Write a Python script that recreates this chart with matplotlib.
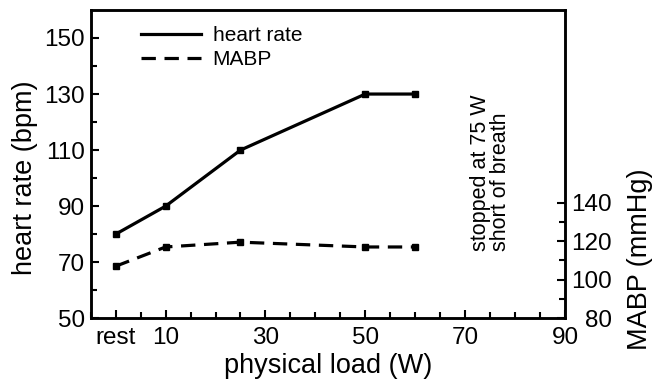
import matplotlib
matplotlib.use('Agg')
import matplotlib.pyplot as plt
from matplotlib.lines import Line2D
from matplotlib.ticker import MultipleLocator, FixedLocator

plt.rcParams['font.family'] = ['Liberation Sans', 'DejaVu Sans']

# data
load = [0, 10, 25, 50, 60]           # W, 0 = rest
heart_rate = [80, 90, 110, 130, 130]  # bpm
mabp = [107, 117, 119.5, 117, 117]    # mmHg

x_ticks = [0, 10, 30, 50, 70, 90]
x_ticklabels = ['rest', '10', '30', '50', '70', '90']
hr_ticks = [50, 70, 90, 110, 130, 150]
mabp_ticks = [80, 100, 120, 140]

fig = plt.figure(figsize=(6.62, 3.83), dpi=100)
ax = fig.add_axes([0.137, 0.169, 0.7165, 0.805])
ax2 = ax.twinx()

lw = 2.3
dash = (0, (4.5, 2.7))

# heart rate (left axis)
ax.plot(load, heart_rate, color='black', lw=lw)
ax.plot(load, heart_rate, 's', color='black', ms=5)

# MABP (right axis)
ax2.plot(load, mabp, color='black', lw=lw, linestyle=dash)
ax2.plot(load, mabp, 's', color='black', ms=4.5)

ax.set_xlim(-5, 90)
ax.set_ylim(50, 160)
ax2.set_ylim(80, 240)

ax.set_xticks(x_ticks)
ax.set_xticklabels(x_ticklabels)
ax.xaxis.set_minor_locator(MultipleLocator(5))
ax.set_yticks(hr_ticks)
ax.yaxis.set_minor_locator(FixedLocator([60, 80, 100, 120, 140]))
ax2.set_yticks(mabp_ticks)
ax2.yaxis.set_minor_locator(FixedLocator([90, 110, 130]))

for a in (ax, ax2):
    a.tick_params(which='both', direction='in', width=1.5, labelsize=17.5, pad=4)
    a.tick_params(which='major', length=5.5)
    a.tick_params(which='minor', length=4.5)
    for s in a.spines.values():
        s.set_linewidth(1.8)
ax.tick_params(top=False, right=False)
ax.tick_params(axis='x', pad=6)
ax2.tick_params(axis='y', which='both', left=False, right=True, pad=34)
# right axis numbers are right-aligned in the reference
for lab in ax2.get_yticklabels():
    lab.set_horizontalalignment('right')

ax.set_xlabel('physical load (W)', fontsize=19.5, labelpad=3)
ax.set_ylabel('heart rate (bpm)', fontsize=19.5)
ax.yaxis.set_label_coords(-0.112, 0.455)
ax2.set_ylabel('MABP (mmHg)', fontsize=19.5, rotation=90)
ax2.yaxis.set_label_coords(1.131, 0.19)

ax.text(75, 74, 'stopped at 75 W\nshort of breath', rotation=90,
        ha='center', va='bottom', multialignment='left',
        fontsize=15.5, linespacing=0.95)

handles = [Line2D([], [], color='black', lw=lw),
           Line2D([], [], color='black', lw=lw, linestyle=dash)]
ax2.legend(handles, ['heart rate', 'MABP'], loc='upper left',
           bbox_to_anchor=(0.075, 0.995), frameon=False, fontsize=15,
           handlelength=2.9, handletextpad=0.55, labelspacing=0.25,
           borderpad=0.2)

plt.savefig('out.png', dpi=100)
